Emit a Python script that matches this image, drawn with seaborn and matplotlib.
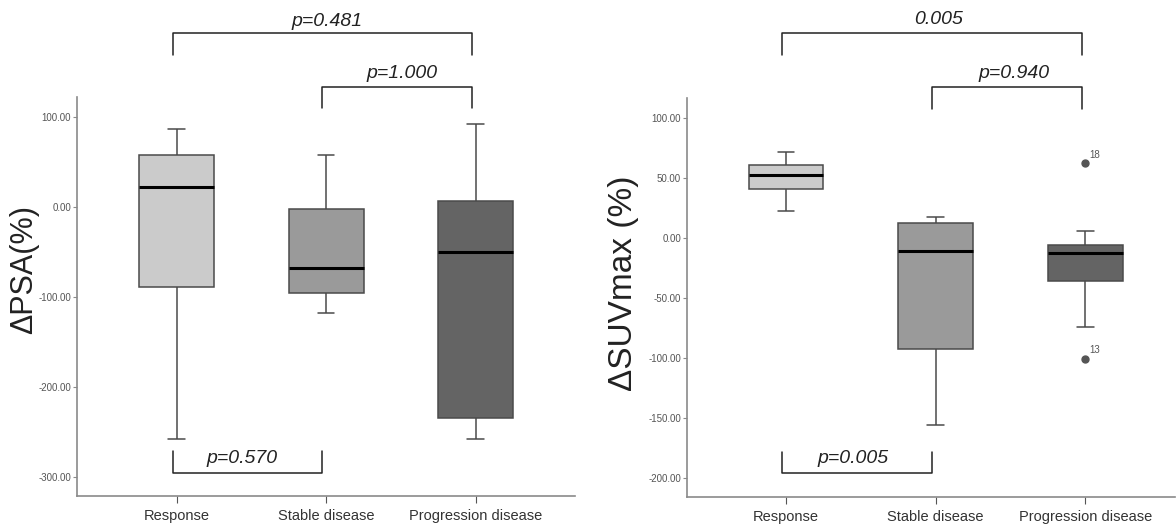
import matplotlib
matplotlib.use('Agg')
import matplotlib.pyplot as plt
import seaborn as sns
import pandas as pd

### DATA ###
groups = ['Response', 'Stable disease', 'Progression disease']
box_colors = ['#cbcbcb', '#9a9a9a', '#646464']

# delta PSA (%) – five-number summaries
psa_response = [-257.8, -89.6, 22.2, 57.0, 86.3]
psa_stable = [-117.8, -95.6, -68.5, -2.6, 57.0]
psa_progression = [-258.5, -235.2, -50.0, 6.7, 92.2]

# delta SUVmax (%) – right panel, progression group has two outliers (13, 18)
suv_response = [23.0, 40.8, 53.0, 61.1, 71.9]
suv_stable = [-155.8, -92.0, -10.3, 13.0, 17.5]
suv_progression = [-100.3, -73.9, -35.3, -20.0, -12.0, -8.0, -5.8, 6.1, 62.8]
suv_outlier_ids = {'18': 62.8, '13': -100.3}

psa_ticks = [-300, -200, -100, 0, 100]
suv_ticks = [-200, -150, -100, -50, 0, 50, 100]

# (group a, group b, label, horizontal line y, leg end y, text y, text x)
psa_brackets = [(0, 2, 'p=0.481', 193, 168.6, 205.8, 1.005),
                (1, 2, 'p=1.000', 133, 109.3, 148, 1.51),
                (0, 1, 'p=0.570', -296, -272, -280, 0.44)]
suv_brackets = [(0, 2, '0.005', 171.1, 152.75, 182.75, 1.017),
                (1, 2, 'p=0.940', 126, 108.1, 137.3, 1.525),
                (0, 1, 'p=0.005', -195.8, -177.8, -183.9, 0.45)]


def long_form(values_by_group):
    rows = []
    for g, vals in zip(groups, values_by_group):
        rows += [(g, v) for v in vals]
    return pd.DataFrame(rows, columns=['group', 'value'])


psa_df = long_form([psa_response, psa_stable, psa_progression])
suv_df = long_form([suv_response, suv_stable, suv_progression])

sns.set_style('white')
plt.rcParams['font.family'] = ['Liberation Sans', 'DejaVu Sans']

fig = plt.figure(figsize=(11.76, 5.27), dpi=100)
ax1 = fig.add_axes([0.0652, 0.0588, 0.4237, 0.7577])
ax2 = fig.add_axes([0.5839, 0.0564, 0.4153, 0.7571])


def draw_panel(ax, df, ylabel, ticks, ylim, xlim, brackets, label_xy, label_size):
    sns.boxplot(data=df, x='group', y='value', hue='group', order=groups,
                palette=box_colors, saturation=1, width=0.5, legend=False,
                linecolor='#4a4a4a', linewidth=1.1, fliersize=5, whis=1.5,
                medianprops=dict(color='black', linewidth=2.2),
                capwidths=0.11,
                flierprops=dict(marker='o', markerfacecolor='#555555',
                                markeredgecolor='#555555'),
                ax=ax)
    ax.set_ylim(*ylim)
    ax.set_xlim(*xlim)
    ax.set_yticks(ticks)
    ax.set_yticklabels([f'{t:.2f}' for t in ticks], fontsize=7, color='#555555')
    ax.set_xticks(range(len(groups)))
    ax.set_xticklabels(groups, fontsize=10.5, color='#333333')
    ax.set_xlabel('')
    ax.set_ylabel(ylabel, fontsize=label_size, va='center', color='#222222')
    ax.yaxis.set_label_coords(*label_xy)
    for side in ['top', 'right']:
        ax.spines[side].set_visible(False)
    for side in ['left', 'bottom']:
        ax.spines[side].set_color('#8a8a8a')
        ax.spines[side].set_linewidth(1.2)
    ax.tick_params(axis='y', length=3, color='#8a8a8a', pad=1, left=True)
    ax.tick_params(axis='x', length=5, color='#555555', pad=4, bottom=True)

    # significance brackets (partly outside the axes)
    shift = -0.025
    for a, b, text, line_y, leg_y, ty, tx in brackets:
        ax.plot([a + shift, a + shift, b + shift, b + shift],
                [leg_y, line_y, line_y, leg_y], color='#222222', lw=1.1, clip_on=False)
        ax.text(tx, ty, text, ha='center', va='center', fontsize=14,
                style='italic', color='#222222', clip_on=False)


draw_panel(ax1, psa_df, 'ΔPSA(%)', psa_ticks, (-321.5, 122), (-0.669, 2.664),
           psa_brackets, (-0.106, 0.568), 22)
draw_panel(ax2, suv_df, 'ΔSUVmax (%)', suv_ticks, (-215.8, 116.7), (-0.664, 2.6),
           suv_brackets, (-0.13, 0.537), 24)

for lab, val in suv_outlier_ids.items():
    ax2.annotate(lab, (2, val), xytext=(3, 6), textcoords='offset points',
                 fontsize=7, color='#555555', ha='left', va='center')

plt.savefig('out.png', dpi=100)
